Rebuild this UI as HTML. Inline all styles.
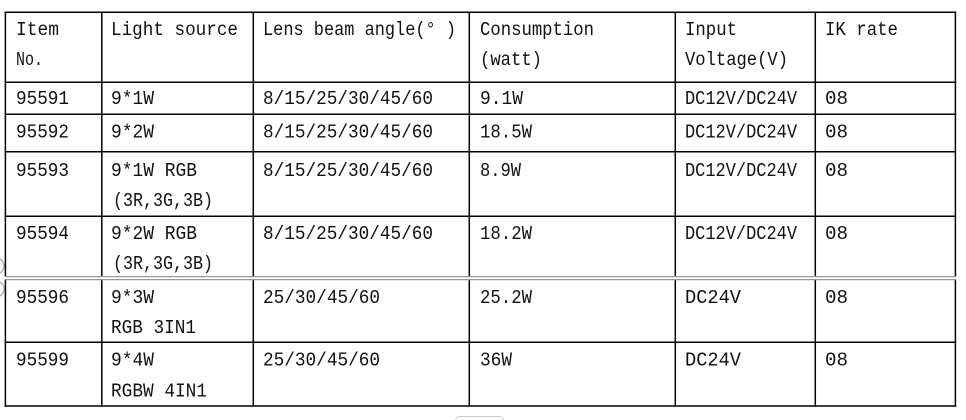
<!DOCTYPE html>
<html>
<head>
<meta charset="utf-8">
<style>
  html,body{margin:0;padding:0;background:#fff;}
  body{width:966px;height:420px;overflow:hidden;}
  svg{display:block;}
  text{font-family:"Liberation Mono","Noto Sans CJK SC",monospace;font-size:19px;fill:#111;}
</style>
</head>
<body>
<svg width="966" height="420" viewBox="0 0 966 420" xmlns="http://www.w3.org/2000/svg">
  <rect width="966" height="420" fill="#fff"/>
  <!-- side artifacts -->
  <circle cx="-4" cy="266" r="8" fill="none" stroke="#aaa" stroke-width="1.2"/>
  <circle cx="-4" cy="289" r="8" fill="none" stroke="#aaa" stroke-width="1.2"/>
  <rect x="455.5" y="416.5" width="48" height="12" rx="4" fill="none" stroke="#ccc" stroke-width="1"/>

  <!-- horizontal black lines -->
  <g stroke="#000" stroke-width="1.5">
    <line x1="4.5" y1="12.3" x2="956.3" y2="12.3"/>
    <line x1="4.5" y1="82.3" x2="956.3" y2="82.3"/>
    <line x1="4.5" y1="114.3" x2="956.3" y2="114.3"/>
    <line x1="4.5" y1="151.8" x2="956.3" y2="151.8"/>
    <line x1="4.5" y1="216.3" x2="956.3" y2="216.3"/>
    <line x1="4.5" y1="342.3" x2="956.3" y2="342.3"/>
    <line x1="4.5" y1="406" x2="956.3" y2="406"/>
    <!-- vertical upper part -->
    <line x1="5.4" y1="11.5" x2="5.4" y2="276"/>
    <line x1="101.8" y1="11.5" x2="101.8" y2="276"/>
    <line x1="253.3" y1="11.5" x2="253.3" y2="276"/>
    <line x1="469.3" y1="11.5" x2="469.3" y2="276"/>
    <line x1="675.3" y1="11.5" x2="675.3" y2="276"/>
    <line x1="815.3" y1="11.5" x2="815.3" y2="276"/>
    <line x1="955.4" y1="11.5" x2="955.4" y2="276"/>
    <!-- vertical lower part -->
    <line x1="5.4" y1="280" x2="5.4" y2="406.8"/>
    <line x1="101.8" y1="280" x2="101.8" y2="406.8"/>
    <line x1="253.3" y1="280" x2="253.3" y2="406.8"/>
    <line x1="469.3" y1="280" x2="469.3" y2="406.8"/>
    <line x1="675.3" y1="280" x2="675.3" y2="406.8"/>
    <line x1="815.3" y1="280" x2="815.3" y2="406.8"/>
    <line x1="955.4" y1="280" x2="955.4" y2="406.8"/>
  </g>
  <!-- gray double line (page break) -->
  <g stroke="#999" stroke-width="1.2">
    <line x1="4.5" y1="276.6" x2="956.3" y2="276.6"/>
    <line x1="4.5" y1="279.6" x2="956.3" y2="279.6"/>
  </g>

  <g>
  <!-- Header -->
  <text x="16" y="35" textLength="43" lengthAdjust="spacingAndGlyphs">Item</text>
  <text x="16" y="65" textLength="27" lengthAdjust="spacingAndGlyphs">No.</text>
  <text x="111" y="35" textLength="127" lengthAdjust="spacingAndGlyphs">Light source</text>
  <text x="263" y="35" textLength="193" lengthAdjust="spacingAndGlyphs">Lens beam angle(° )</text>
  <text x="480" y="35" textLength="114" lengthAdjust="spacingAndGlyphs">Consumption</text>
  <text x="480" y="65" textLength="62" lengthAdjust="spacingAndGlyphs">(watt)</text>
  <text x="685" y="35" textLength="52" lengthAdjust="spacingAndGlyphs">Input</text>
  <text x="685" y="65" textLength="103" lengthAdjust="spacingAndGlyphs">Voltage(V)</text>
  <text x="825" y="35" textLength="73" lengthAdjust="spacingAndGlyphs">IK rate</text>

  <!-- Row 1 -->
  <text x="16" y="104" textLength="53" lengthAdjust="spacingAndGlyphs">95591</text>
  <text x="111" y="104" textLength="43" lengthAdjust="spacingAndGlyphs">9*1W</text>
  <text x="263" y="104" textLength="170" lengthAdjust="spacingAndGlyphs">8/15/25/30/45/60</text>
  <text x="480" y="104" textLength="43" lengthAdjust="spacingAndGlyphs">9.1W</text>
  <text x="685" y="104" textLength="112" lengthAdjust="spacingAndGlyphs">DC12V/DC24V</text>
  <text x="825" y="104" textLength="23" lengthAdjust="spacingAndGlyphs">08</text>

  <!-- Row 2 -->
  <text x="16" y="137.5" textLength="53" lengthAdjust="spacingAndGlyphs">95592</text>
  <text x="111" y="137.5" textLength="43" lengthAdjust="spacingAndGlyphs">9*2W</text>
  <text x="263" y="137.5" textLength="170" lengthAdjust="spacingAndGlyphs">8/15/25/30/45/60</text>
  <text x="480" y="137.5" textLength="52" lengthAdjust="spacingAndGlyphs">18.5W</text>
  <text x="685" y="137.5" textLength="112" lengthAdjust="spacingAndGlyphs">DC12V/DC24V</text>
  <text x="825" y="137.5" textLength="23" lengthAdjust="spacingAndGlyphs">08</text>

  <!-- Row 3 -->
  <text x="16" y="176" textLength="53" lengthAdjust="spacingAndGlyphs">95593</text>
  <text x="111" y="176" textLength="86" lengthAdjust="spacingAndGlyphs">9*1W RGB</text>
  <text x="113" y="206" textLength="100" lengthAdjust="spacingAndGlyphs">(3R,3G,3B)</text>
  <text x="263" y="176" textLength="170" lengthAdjust="spacingAndGlyphs">8/15/25/30/45/60</text>
  <text x="480" y="176" textLength="41" lengthAdjust="spacingAndGlyphs">8.9W</text>
  <text x="685" y="176" textLength="112" lengthAdjust="spacingAndGlyphs">DC12V/DC24V</text>
  <text x="825" y="176" textLength="23" lengthAdjust="spacingAndGlyphs">08</text>

  <!-- Row 4 -->
  <text x="16" y="239" textLength="53" lengthAdjust="spacingAndGlyphs">95594</text>
  <text x="111" y="239" textLength="86" lengthAdjust="spacingAndGlyphs">9*2W RGB</text>
  <text x="113" y="269" textLength="100" lengthAdjust="spacingAndGlyphs">(3R,3G,3B)</text>
  <text x="263" y="239" textLength="170" lengthAdjust="spacingAndGlyphs">8/15/25/30/45/60</text>
  <text x="480" y="239" textLength="52" lengthAdjust="spacingAndGlyphs">18.2W</text>
  <text x="685" y="239" textLength="112" lengthAdjust="spacingAndGlyphs">DC12V/DC24V</text>
  <text x="825" y="239" textLength="23" lengthAdjust="spacingAndGlyphs">08</text>

  <!-- Row 5 -->
  <text x="16" y="303" textLength="53" lengthAdjust="spacingAndGlyphs">95596</text>
  <text x="111" y="303" textLength="43" lengthAdjust="spacingAndGlyphs">9*3W</text>
  <text x="111" y="333" textLength="85" lengthAdjust="spacingAndGlyphs">RGB 3IN1</text>
  <text x="263" y="303" textLength="117" lengthAdjust="spacingAndGlyphs">25/30/45/60</text>
  <text x="480" y="303" textLength="52" lengthAdjust="spacingAndGlyphs">25.2W</text>
  <text x="685" y="303" textLength="56" lengthAdjust="spacingAndGlyphs">DC24V</text>
  <text x="825" y="303" textLength="23" lengthAdjust="spacingAndGlyphs">08</text>

  <!-- Row 6 -->
  <text x="16" y="365.5" textLength="53" lengthAdjust="spacingAndGlyphs">95599</text>
  <text x="111" y="365.5" textLength="43" lengthAdjust="spacingAndGlyphs">9*4W</text>
  <text x="111" y="396.5" textLength="96" lengthAdjust="spacingAndGlyphs">RGBW 4IN1</text>
  <text x="263" y="365.5" textLength="117" lengthAdjust="spacingAndGlyphs">25/30/45/60</text>
  <text x="480" y="365.5" textLength="32" lengthAdjust="spacingAndGlyphs">36W</text>
  <text x="685" y="365.5" textLength="56" lengthAdjust="spacingAndGlyphs">DC24V</text>
  <text x="825" y="365.5" textLength="23" lengthAdjust="spacingAndGlyphs">08</text>
  </g>
</svg>
</body>
</html>
